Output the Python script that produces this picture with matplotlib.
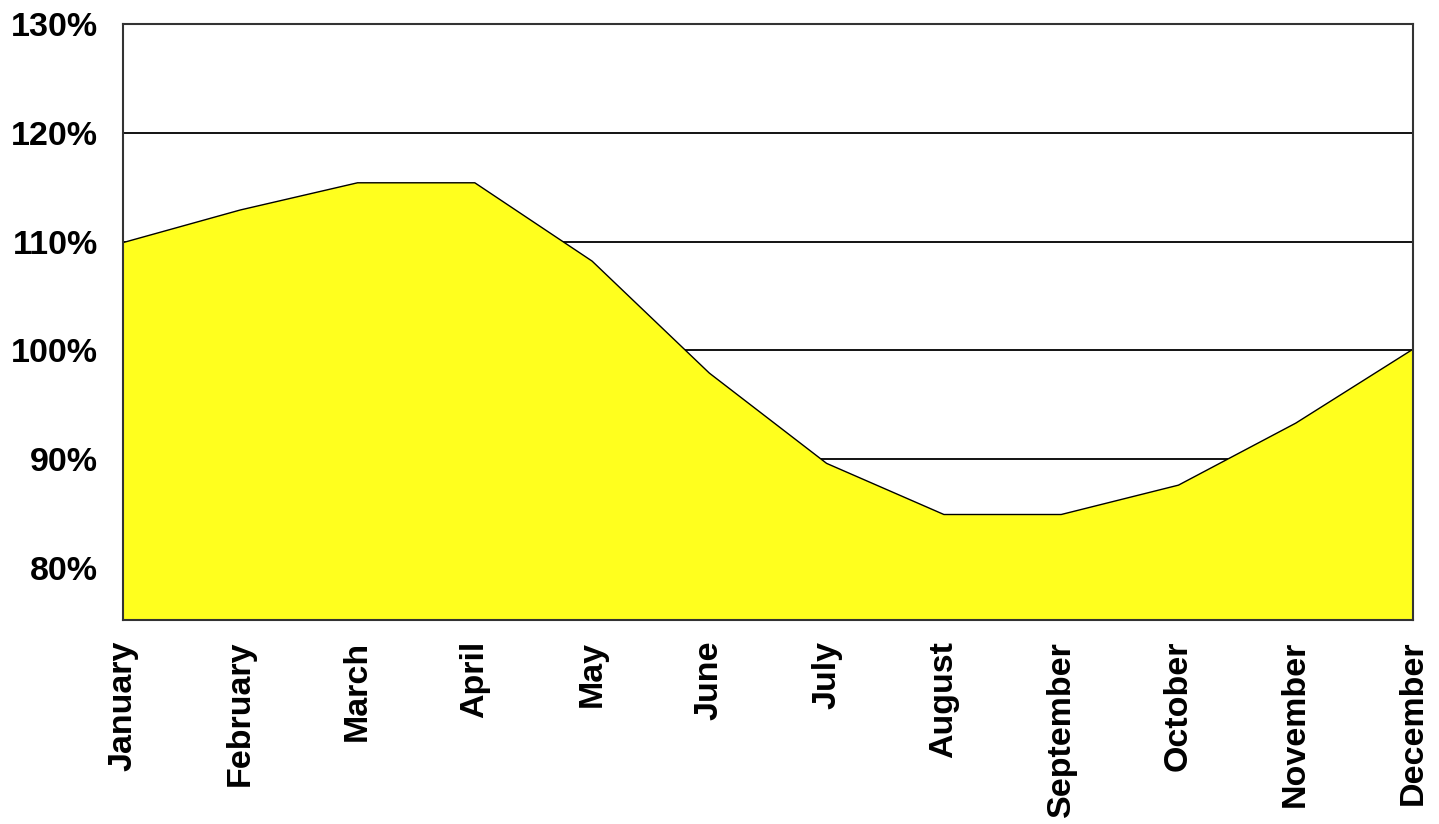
import numpy as np
import matplotlib.pyplot as plt

months = ['January', 'February', 'March', 'April', 'May', 'June', 'July',
          'August', 'September', 'October', 'November', 'December']
values = [109.9, 112.9, 115.4, 115.4, 108.2, 97.9, 89.6,
          84.9, 84.9, 87.6, 93.3, 100.1]
yticks = [80, 90, 100, 110, 120, 130]

plt.rcParams['font.family'] = ['Liberation Sans', 'DejaVu Sans']
plt.rcParams['font.weight'] = 'bold'

fig = plt.figure(figsize=(14.39, 8.24), dpi=100)
ax = fig.add_axes([123/1439, 1-620/824, (1413-123)/1439, (620-24)/824])

x = np.arange(len(months))
ax.fill_between(x, values, 0, color='#ffff1e', zorder=2, linewidth=0)
ax.plot(x, values, color='black', linewidth=1, zorder=3)

ax.set_xlim(0, len(months) - 1)
ax.set_ylim(75.2, 130)
ax.set_yticks(yticks)
ax.set_yticklabels([f'{v}%' for v in yticks], fontsize=24.5, fontweight='bold')
ax.set_xticks(x)
ax.set_xticklabels(months, rotation=90, fontsize=24.5, fontweight='bold', va='top')
ax.tick_params(axis='both', length=0)
ax.tick_params(axis='y', pad=18)
ax.tick_params(axis='x', pad=15)

ax.grid(axis='y', color='black', linewidth=1.3, zorder=1)
ax.set_axisbelow(True)
for s in ax.spines.values():
    s.set_color('#333333')
    s.set_linewidth(1.5)
    s.set_zorder(4)

fig.savefig('out.png', dpi=100)
